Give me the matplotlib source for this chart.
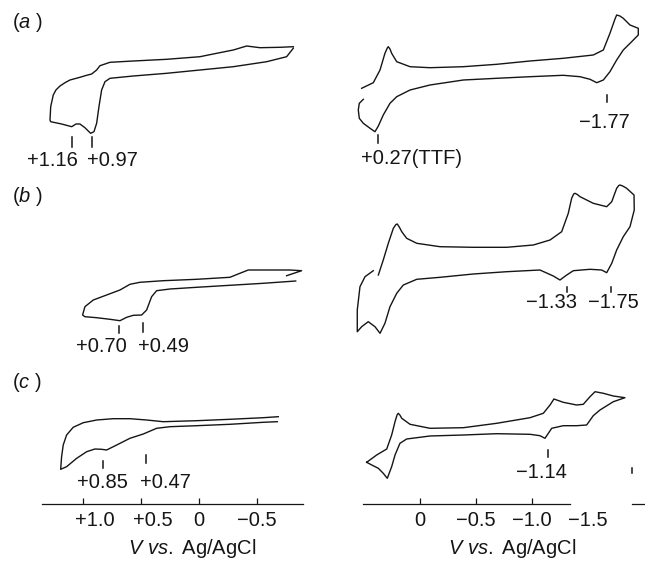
import matplotlib.pyplot as plt
from matplotlib.transforms import ScaledTranslation

plt.rcParams['font.family'] = ['Liberation Sans', 'DejaVu Sans']
plt.rcParams['mathtext.fontset'] = 'custom'
plt.rcParams['mathtext.rm'] = 'Liberation Sans'
plt.rcParams['mathtext.it'] = 'Liberation Sans:italic'

# cyclic voltammograms, potential in V vs Ag/AgCl, current in arbitrary units
a_left_v = [-0.813, -0.698, -0.526, -0.411, -0.296, -0.153, -0.009, 0.278, 0.566, 0.767,
            0.853, 0.882, 0.925, 0.968, 1.026, 1.112, 1.155, 1.198, 1.233, 1.256, 1.278, 1.284,
            1.278, 1.184, 1.097, 1.060, 1.026, 0.983, 0.934, 0.905, 0.882, 0.862,
            0.839, 0.810, 0.767, 0.566, 0.278, -0.009, -0.296, -0.584, -0.756, -0.813]
a_left_i = [103.3, 102.7, 102.3, 104.0, 100.0, 96.7, 93.3, 90.7, 89.0, 87.7,
            84.3, 80.0, 76.0, 74.7, 72.7, 70.0, 67.3, 64.0, 60.0, 55.0, 43.3, 30.0,
            28.3, 26.0, 23.3, 26.0, 26.0, 22.3, 16.7, 18.3, 26.7, 43.3,
            60.0, 68.3, 71.7, 74.0, 76.7, 80.0, 83.3, 88.3, 93.3, 101.7]

a_right_v = [0.521, 0.417, 0.357, 0.313, 0.292, 0.283, 0.268, 0.253, 0.208, 0.089, -0.089, -0.387,
             -0.685, -0.982, -1.279, -1.547, -1.637, -1.696, -1.741, -1.756, -1.785, -1.815, -1.875, -1.949,
             -1.949, -1.890, -1.815, -1.756, -1.696, -1.637, -1.578, -1.518, -1.429, -1.279,
             -0.982, -0.685, -0.387, -0.089, 0.089, 0.208, 0.268, 0.328, 0.372, 0.402,
             0.446, 0.506, 0.542, 0.551, 0.542, 0.506]
a_right_i = [61.7, 67.3, 80.0, 96.7, 102.0, 103.3, 101.0, 96.7, 88.3, 83.3, 82.3, 83.3,
             85.7, 89.0, 91.7, 95.0, 100.0, 116.7, 131.0, 135.0, 134.0, 131.7, 125.0, 121.7,
             115.0, 108.3, 100.0, 90.0, 78.3, 70.0, 67.3, 70.7, 73.3, 74.7,
             73.3, 71.7, 70.0, 65.0, 60.0, 53.3, 46.7, 35.0, 24.0, 18.3,
             21.7, 26.7, 31.7, 40.0, 46.7, 50.7]

b_left_v = [-0.756, -0.885, -0.784, -0.554, -0.425, -0.353, -0.267, 0.020, 0.308, 0.509,
            0.595, 0.681, 0.796, 0.911, 0.983, 1.003, 0.983, 0.882, 0.767, 0.681,
            0.623, 0.566, 0.494, 0.451, 0.408, 0.365, 0.250, 0.020, -0.267, -0.554, -0.834]
b_left_i = [64.3, 69.3, 70.0, 70.0, 70.0, 66.7, 62.7, 60.7, 59.3, 57.7,
            55.7, 50.0, 45.0, 40.0, 33.3, 25.0, 23.3, 22.3, 20.7, 19.3,
            22.7, 24.7, 25.0, 30.0, 43.3, 49.3, 51.0, 52.7, 54.7, 56.7, 59.0]

b_right_v = [0.372, 0.328, 0.283, 0.238, 0.215, 0.203, 0.185, 0.163, 0.119, 0.029, -0.179, -0.476,
             -0.774, -1.012, -1.161, -1.265, -1.324, -1.354, -1.372, -1.384, -1.405, -1.429, -1.547, -1.667,
             -1.712, -1.756, -1.775, -1.786, -1.810, -1.845, -1.911, -1.913, -1.875, -1.815, -1.756, -1.712,
             -1.667, -1.622, -1.518, -1.369, -1.310, -1.250, -1.190, -1.071, -0.774, -0.476,
             -0.179, 0.029, 0.149, 0.208, 0.268, 0.313, 0.357, 0.402, 0.462, 0.521,
             0.560, 0.560, 0.536, 0.491, 0.417]
b_right_i = [65.0, 80.0, 96.7, 111.7, 115.5, 116.0, 113.0, 108.3, 101.7, 96.7, 93.3, 92.7,
             92.7, 95.0, 100.0, 108.3, 126.7, 141.7, 146.0, 146.7, 145.5, 143.3, 136.7, 133.3,
             138.3, 151.7, 154.5, 155.0, 154.0, 151.7, 145.0, 130.0, 113.3, 103.3, 90.0, 76.7,
             67.3, 70.0, 70.7, 69.3, 65.0, 60.0, 64.0, 70.0, 68.3, 66.0,
             62.7, 60.7, 55.0, 46.7, 33.3, 16.7, 6.7, 13.3, 18.3, 13.3,
             8.3, 30.0, 53.3, 63.3, 69.3]

c_left_v = [-0.684, -0.554, -0.267, 0.020, 0.308, 0.451, 0.595, 0.739, 0.882, 0.997,
            1.084, 1.141, 1.170, 1.184, 1.192, 1.141, 1.054, 0.968, 0.897, 0.839,
            0.796, 0.709, 0.595, 0.480, 0.365, 0.250, 0.020, -0.267, -0.554, -0.675]
c_left_i = [87.3, 86.3, 84.7, 83.3, 82.3, 84.0, 85.3, 85.3, 84.0, 81.3,
            76.7, 69.0, 59.0, 47.3, 34.7, 37.3, 45.7, 52.3, 55.0, 54.7,
            54.0, 59.0, 65.7, 70.0, 75.7, 77.3, 78.3, 79.7, 81.7, 82.3]

c_right_v = [0.476, 0.387, 0.297, 0.253, 0.223, 0.205, 0.194, 0.180, 0.163, 0.089, -0.089, -0.387,
             -0.685, -0.982, -1.101, -1.161, -1.196, -1.279, -1.399, -1.458, -1.518, -1.563,
             -1.637, -1.726, -1.830, -1.726, -1.607, -1.547, -1.488, -1.399, -1.279, -1.176,
             -1.116, -1.071, -0.982, -0.685, -0.387, -0.089, 0.119, 0.179, 0.223, 0.253,
             0.292, 0.328, 0.372, 0.431, 0.476]
c_right_i = [41.7, 49.0, 55.0, 69.0, 82.3, 89.0, 90.7, 89.0, 85.7, 79.7, 75.7, 76.3,
             80.7, 86.3, 90.7, 99.0, 105.0, 101.7, 99.0, 99.7, 107.3, 112.3,
             110.7, 108.0, 106.3, 102.3, 94.0, 88.3, 79.0, 78.3, 78.3, 75.7,
             65.7, 68.3, 69.7, 70.3, 69.0, 68.0, 65.0, 60.7, 49.0, 37.3,
             25.7, 30.7, 35.7, 39.0, 41.7]

# peak markers: (potential, bottom, top) and peak labels: (text, potential, current)
a_left_marks = [(1.097, 3, 13), (0.925, 3, 13)]
a_left_labels = [('+1.16', 1.259, -11), ('+0.97', 0.750, -11)]
a_right_marks = [(0.375, 7, 15), (-1.670, 48, 55)]
a_right_labels = [('+0.27(TTF)', 0.074, -8.5), ('\u22121.77', -1.643, 28)]
b_left_marks = [(0.687, 7, 14), (0.485, 8, 17)]
b_left_labels = [('+0.70', 0.845, -7), ('+0.49', 0.302, -7)]
b_right_marks = [(-1.310, 48, 53), (-1.703, 48, 53)]
b_right_labels = [('\u22121.33', -1.174, 38), ('\u22121.75', -1.726, 38)]
c_left_marks = [(0.830, 36, 43), (0.457, 41, 49)]
c_left_labels = [('+0.85', 0.832, 21), ('+0.47', 0.293, 21)]
c_right_marks = [(-1.146, 47, 54), (-1.890, 31, 36)]
c_right_labels = [('\u22121.14', -1.087, 32)]

left_ticks = [1.0, 0.5, 0.0, -0.5]
left_ticklabels = ['+1.0', '+0.5', '0', '\u22120.5']
right_ticks = [0.0, -0.5, -1.0, -1.5]
right_ticklabels = ['0', '\u22120.5', '\u22121.0', '\u22121.5']

ink = '#151515'
fs = 14.5

W, H = 645, 561
fig = plt.figure(figsize=(W / 100, H / 100), dpi=100)


def make_ax(x0, x1, top, bottom, xlim):
    ax = fig.add_axes([x0 / W, 1 - bottom / H, (x1 - x0) / W, (bottom - top) / H])
    ax.set_xlim(*xlim)
    ax.set_ylim(0, bottom - top)
    for s in ax.spines.values():
        s.set_visible(False)
    ax.set_yticks([])
    ax.set_xticks([])
    ax.patch.set_alpha(0)
    return ax


def draw(ax, v, i, marks, labels):
    ax.plot(v, i, color=ink, lw=1.0, clip_on=False, solid_joinstyle='round')
    for p, lo, hi in marks:
        ax.plot([p, p], [lo, hi], color=ink, lw=1.1, clip_on=False)
    for t, p, y in labels:
        ax.text(p, y, t, ha='center', va='center', fontsize=fs, color=ink)


left_lim = (1.353, -0.897)
right_lim = (0.625, -2.009)
rows = [(0, 150), (180, 340), (385, 504)]

axes = []
for top, bottom in rows:
    axes.append((make_ax(42, 303, top, bottom, left_lim),
                 make_ax(350, 645, top, bottom, right_lim)))

draw(axes[0][0], a_left_v, a_left_i, a_left_marks, a_left_labels)
draw(axes[0][1], a_right_v, a_right_i, a_right_marks, a_right_labels)
draw(axes[1][0], b_left_v, b_left_i, b_left_marks, b_left_labels)
draw(axes[1][1], b_right_v, b_right_i, b_right_marks, b_right_labels)
draw(axes[2][0], c_left_v, c_left_i, c_left_marks, c_left_labels)
draw(axes[2][1], c_right_v, c_right_i, c_right_marks, c_right_labels)

# bottom potential axes
axl, axr = axes[2]
for ax, ticks, labels in [(axl, left_ticks, left_ticklabels), (axr, right_ticks, right_ticklabels)]:
    ax.spines['bottom'].set_visible(True)
    ax.spines['bottom'].set_color(ink)
    ax.spines['bottom'].set_linewidth(0.9)
    ax.set_xticks(ticks)
    ax.set_xticklabels(labels, fontsize=fs, color=ink)
    ax.tick_params(axis='x', direction='in', length=4.5, width=0.9, color=ink, pad=5)
    ax.set_xlabel(r'$\mathit{V\ vs.}$ Ag/AgCl', fontsize=fs, color=ink)
    ax.xaxis.label.set_va('center')

axr.spines['bottom'].set_bounds(0.509, -1.339)
axr.plot([-1.890, -2.009], [0, 0], color=ink, lw=0.9, clip_on=False)
axr.xaxis.get_major_ticks()[3].tick1line.set_visible(False)

shift = ScaledTranslation(12 / 100, 0, fig.dpi_scale_trans)
for lab in axl.get_xticklabels()[:2]:
    lab.set_transform(lab.get_transform() + shift)

axl.xaxis.set_label_coords((192 - 42) / 261, -44 / 119)
axr.xaxis.set_label_coords((512 - 350) / 295, -44 / 119)

for name, y in [('a', 23), ('b', 197), ('c', 382)]:
    fig.text(12 / W, 1 - y / H, '($\\mathit{%s}$ )' % name, ha='left', va='center',
             fontsize=fs, color=ink)

fig.savefig('out.png', dpi=100, facecolor='white')
